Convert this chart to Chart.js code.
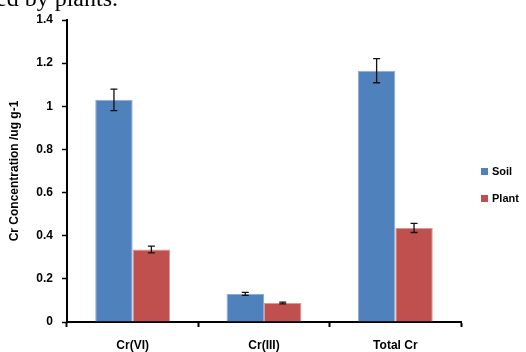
<!DOCTYPE html>
<html>
<head>
<meta charset="utf-8">
<script src="https://cdn.jsdelivr.net/npm/chart.js@4.4.1/dist/chart.umd.min.js"></script>
<style>
  html, body { margin: 0; padding: 0; background: #fff; }
  #wrap { position: relative; width: 526px; height: 352px; overflow: hidden; }
  #caption { position: absolute; left: -4px; top: -15px; font: 24px "Liberation Serif", serif; color: #000; white-space: nowrap; }
  .leg { position: absolute; left: 481px; font: bold 11px "Liberation Sans", sans-serif; color: #000; }
  .leg span { display: inline-block; width: 7px; height: 7px; margin-right: 4px; }
</style>
</head>
<body>
<div id="wrap">
  <canvas id="chart" width="526" height="352"></canvas>
  <div id="caption">ed by plants.</div>
  <div class="leg" style="top:165px"><span style="background:#4F81BD"></span>Soil</div>
  <div class="leg" style="top:192px"><span style="background:#C0504D"></span>Plant</div>
</div>
<script>
// values
const categories = ['Cr(VI)', 'Cr(III)', 'Total Cr'];
const soil = [1.03, 0.13, 1.165];
const soilErr = [0.05, 0.007, 0.056];
const plant = [0.336, 0.088, 0.436];
const plantErr = [0.016, 0.004, 0.021];
const yTicks = [0, 0.2, 0.4, 0.6, 0.8, 1, 1.2, 1.4];

const font = { family: 'Liberation Sans', size: 12, weight: 'bold' };

// draw error bars on top of the bars
const errorBars = {
  id: 'errorBars',
  afterDatasetsDraw(chart) {
    const ctx = chart.ctx;
    const y = chart.scales.y;
    const errs = [soilErr, plantErr];
    ctx.save();
    ctx.strokeStyle = '#111';
    ctx.lineWidth = 1.3;
    chart.data.datasets.forEach((ds, i) => {
      chart.getDatasetMeta(i).data.forEach((bar, j) => {
        const v = ds.data[j], e = errs[i][j];
        const top = y.getPixelForValue(v + e), bot = y.getPixelForValue(v - e);
        ctx.beginPath();
        ctx.moveTo(bar.x, top); ctx.lineTo(bar.x, bot);
        ctx.moveTo(bar.x - 3.5, top); ctx.lineTo(bar.x + 3.5, top);
        ctx.moveTo(bar.x - 3.5, bot); ctx.lineTo(bar.x + 3.5, bot);
        ctx.stroke();
      });
    });
    ctx.restore();
  }
};

new Chart(document.getElementById('chart').getContext('2d'), {
  type: 'bar',
  data: {
    labels: categories,
    datasets: [
      { label: 'Soil', data: soil, backgroundColor: '#4F81BD', borderColor: '#8EABD6', borderWidth: { left: 1, right: 1, top: 1 } },
      { label: 'Plant', data: plant, backgroundColor: '#C0504D', borderColor: '#D89A98', borderWidth: { left: 1, right: 1, top: 1 } }
    ]
  },
  options: {
    responsive: false,
    animation: false,
    layout: { padding: { left: 0, right: 65, top: 20, bottom: 0 } },
    plugins: { legend: { display: false }, tooltip: { enabled: false } },
    datasets: { bar: { categoryPercentage: 0.57, barPercentage: 1 } },
    scales: {
      x: {
        grid: { offset: true, drawOnChartArea: false, tickLength: 5, color: '#000', tickWidth: 2 },
        border: { color: '#000', width: 2 },
        ticks: { color: '#000', font: font, padding: 11 },
        afterFit(s) { s.height = 30; }
      },
      y: {
        min: 0, max: 1.4,
        afterBuildTicks(s) { s.ticks = yTicks.map(v => ({ value: v })); },
        grid: { drawOnChartArea: false, tickLength: 5, color: '#000', tickWidth: 1.5 },
        border: { color: '#000', width: 2 },
        ticks: { color: '#000', font: font, padding: 9, callback: v => String(+v.toFixed(1)) },
        title: { display: true, text: 'Cr Concentration /ug g-1', color: '#000', font: { family: 'Liberation Sans', size: 12, weight: 'bold' }, padding: { top: 7, bottom: 10 } },
        afterFit(s) { s.width = 67; }
      }
    }
  },
  plugins: [errorBars]
});
</script>
</body>
</html>
